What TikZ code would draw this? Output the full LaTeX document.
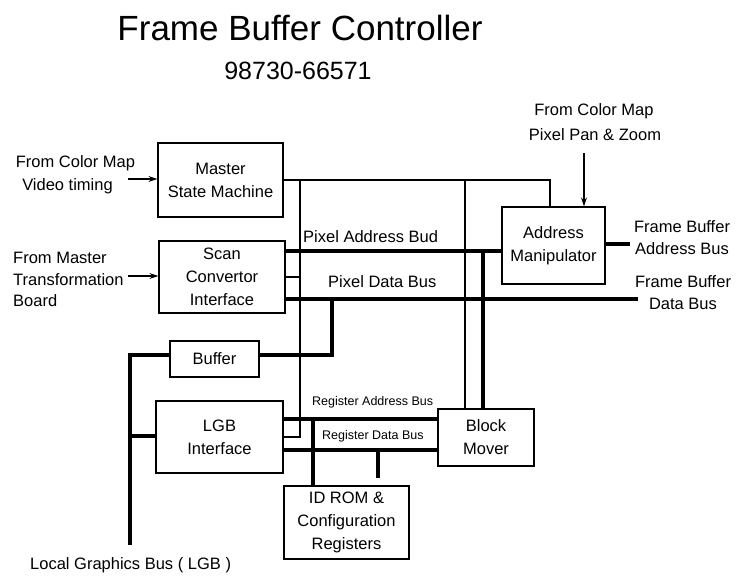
\documentclass[tikz,border=0pt]{standalone}
\usepackage{fontspec}
\setmainfont{Liberation Sans}
\usetikzlibrary{arrows.meta}
\begin{document}
\begin{tikzpicture}[x=1pt,y=-1pt,
  box/.style={draw,line width=1.2pt,inner sep=0pt,align=center,
    font=\fontsize{16.5}{23}\selectfont},
  lbl/.style={inner sep=0pt,font=\fontsize{16.5}{22}\selectfont},
  smalllbl/.style={inner sep=0pt,font=\fontsize{12.5}{15}\selectfont},
  ctrl/.style={line width=1.2pt},
  bus/.style={line width=4pt,line join=miter},
  arr/.style={line width=1.2pt,-{Stealth[length=9pt,width=6pt]}}]
\useasboundingbox (0,0) rectangle (738,575);

% titles
\node[inner sep=0pt,font=\fontsize{35}{40}\selectfont] (title) at (300,28) {Frame Buffer Controller};
\node[inner sep=0pt,font=\fontsize{25}{28}\selectfont] (partno) at (298,71) {98730-66571};

% functional blocks
\node[box,minimum width=125pt,minimum height=74pt] (msm) at (220.5,180) {Master\\State Machine};
\node[box,minimum width=126pt,minimum height=72pt] (sci) at (222,277) {Scan\\Convertor\\Interface};
\node[box,minimum width=103pt,minimum height=77pt] (am) at (553.5,245.5) {Address\\Manipulator};
\node[box,minimum width=89pt,minimum height=36pt] (buf) at (214.5,359) {Buffer};
\node[box,minimum width=127pt,minimum height=72pt] (lgb) at (219.5,437) {LGB\\Interface};
\node[box,minimum width=125pt,minimum height=73pt] (idrom) at (346.5,522.5) {ID ROM \&\\Configuration\\Registers};
\node[box,minimum width=96pt,minimum height=57pt] (bm) at (486,437.5) {Block\\Mover};

% external labels
\node[lbl] (cmap1) at (75.5,163) {From Color Map};
\node[lbl] (cmap2) at (67.5,186) {Video timing};
\node[lbl,anchor=west] (mtb1) at (13,258) {From Master};
\node[lbl,anchor=west] (mtb2) at (13,280) {Transformation};
\node[lbl,anchor=west] (mtb3) at (13,301) {Board};
\node[lbl] (pz1) at (594,111) {From Color Map};
\node[lbl] (pz2) at (595,135) {Pixel Pan \& Zoom};
\node[lbl,align=center] (fba) at (682,238) {Frame Buffer\\Address Bus};
\node[lbl,align=center] (fbd) at (683,293) {Frame Buffer\\Data Bus};
\node[lbl,anchor=west] (lgbbus) at (30,565) {Local Graphics Bus ( LGB )};

% bus labels
\node[lbl,anchor=west] (pab) at (303,237) {Pixel Address Bud};
\node[lbl,anchor=west] (pdb) at (328,282) {Pixel Data Bus};
\node[smalllbl,anchor=west] (rab) at (312,402) {Register Address Bus};
\node[smalllbl,anchor=west] (rdb) at (322,436) {Register Data Bus};

% junctions and free ends
\coordinate (c1) at (300,180);
\coordinate (c2) at (465,180);
\coordinate (c3) at (550,180);
\coordinate (j1) at (483,251);
\coordinate (j2) at (332,299);
\coordinate (pdbend) at (638,299);
\coordinate (fbaend) at (630,244);
\coordinate (lgbtop) at (130,355);
\coordinate (lgbmid) at (130,436);
\coordinate (lgbbot) at (130,545);
\coordinate (j3) at (313,419);
\coordinate (j4) at (378,450);
\coordinate (stubend) at (378,478);
\coordinate (in1) at (128,179);
\coordinate (in2) at (128,276);
\coordinate (in3) at (584,153);

% control lines
\draw[ctrl] (msm.east) -- (c3) -- (am.north -| c3);
\draw[ctrl] (c1) |- (lgb.east);
\draw[ctrl] (c2) -- (bm.north -| c2);
\draw[ctrl] (sci.east) -- (sci.east -| c1);

% pixel buses
\draw[bus] (sci.east |- j1) -- (am.west |- j1);
\draw[bus] (sci.east |- j2) -- (pdbend);
\draw[bus] (j1) -- (bm.north -| j1);
\draw[bus] (am.east |- fbaend) -- (fbaend);
\draw[bus] (buf.east |- lgbtop) -| (j2);

% local graphics bus
\draw[bus] (buf.west |- lgbtop) -- (lgbtop) -- (lgbbot);
\draw[bus] (lgbmid) -- (lgb.west |- lgbmid);

% register buses
\draw[bus] (lgb.east |- j3) -- (bm.west |- j3);
\draw[bus] (lgb.east |- j4) -- (bm.west |- j4);
\draw[bus] (j3) -- (idrom.north -| j3);
\draw[bus] (j4) -- (stubend);

% inputs
\draw[arr] (in1) -- (msm.west |- in1);
\draw[arr] (in2) -- (sci.west |- in2);
\draw[arr] (in3) -- (am.north -| in3);
\end{tikzpicture}
\end{document}
